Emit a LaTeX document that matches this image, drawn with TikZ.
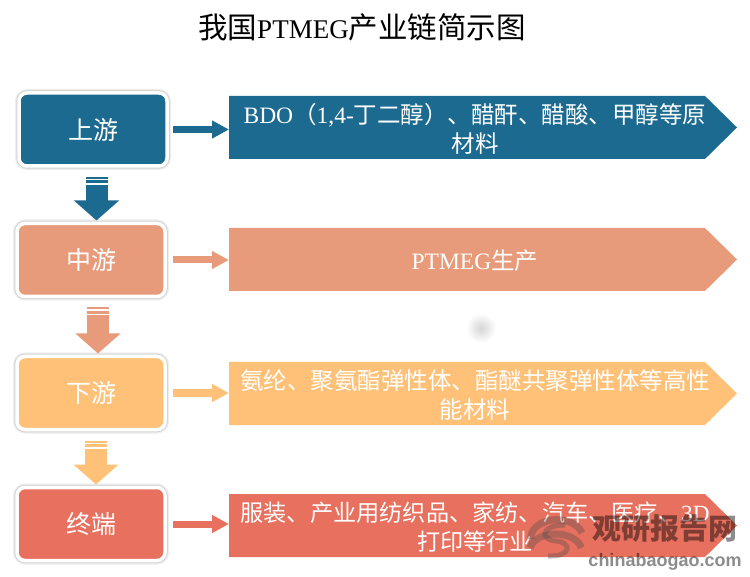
\documentclass[tikz,border=0pt]{standalone}
\usepackage{fontspec}
\setmainfont{Liberation Serif}
\setsansfont{Liberation Sans}
\newfontfamily\cjk{Noto Sans CJK SC}
\usetikzlibrary{positioning,arrows.meta,shapes.symbols,shadows}
\definecolor{cblue}{HTML}{1C6A8F}
\definecolor{csalmon}{HTML}{E79B7A}
\definecolor{corange}{HTML}{FFC177}
\definecolor{cred}{HTML}{E8705E}
\begin{document}
\begin{tikzpicture}[
	x=1pt,y=-1pt,
	stage/.style={
		draw=white,
		line width=3.5pt,
		rounded corners=8pt,
		minimum width=148pt,
		minimum height=73pt,
		outer sep=0pt,
		text=white,
		font=\cjk\fontsize{25}{25}\selectfont,
		drop shadow={opacity=.07,shadow xshift=0pt,shadow yshift=0pt,draw=black,line width=8pt},
		drop shadow={opacity=.1,shadow xshift=0pt,shadow yshift=0pt,draw=black,line width=5.5pt}
	},
	ribbon/.style={
		shape=signal,
		signal to=east,
		signal pointer angle=89,
		anchor=west,
		minimum width=508pt,
		minimum height=63pt,
		inner sep=0pt,
		outer sep=0pt
	},
	rlabel/.style={
		align=center,
		inner sep=0pt,
		text=white,
		font=\cjk\fontsize{23.5}{29}\selectfont
	},
	link/.style={
		line width=7pt,
		shorten <=8pt,
		-{Triangle[length=17pt,width=17pt]}
	},
	drop/.style={
		line width=22pt,
		shorten <=11pt,
		shorten >=3pt,
		dash pattern=on 2pt off 1.5pt on 3pt off 1.5pt on 60pt,
		-{Triangle[length=20pt,width=44pt]}
	},
	mark text/.style={
		text=black,
		opacity=.45,
		inner sep=0pt
	},
	mark line/.style={
		black!70,
		opacity=.35
	}
	]
	
	\useasboundingbox (0,0) rectangle (750,577);
	
	\node (title) at (362,27) {\fontsize{29.5}{30}\selectfont\cjk 我国{\rmfamily\fontsize{27}{30}\selectfont PTMEG}产业链简示图};
	
	\shade[inner color=black!16,outer color=white] (481,328) circle (15);
	
	\node[stage,fill=cblue] at (93,129.5) 
	(b1) {上游};
	\node[stage,fill=csalmon] at (91,260) 
	(b2) {中游};
	\node[stage,fill=corange] at (91,393) 
	(b3) {下游};
	\node[stage,fill=cred] at (91,524) 
	(b4) {终端};
	
	\node[ribbon,fill=cblue] at (229,127.5) 
	(r1) {};
	\node[ribbon,fill=csalmon] at (229,259.5) 
	(r2) {};
	\node[ribbon,fill=corange] at (229,393.5) 
	(r3) {};
	\node[ribbon,fill=cred] at (229,525.5) 
	(r4) {};
	
	\node[rlabel] at ([xshift=246pt,yshift=-1.5pt]r1.west) 
	(t1) {{\rmfamily BDO}（{\rmfamily 1,4-}丁二醇）、醋酐、醋酸、甲醇等原\\材料};
	\node[rlabel] at ([xshift=246pt,yshift=-1.5pt]r2.west) 
	(t2) {{\rmfamily PTMEG}生产};
	\node[rlabel] at ([xshift=246pt,yshift=-1.5pt]r3.west) 
	(t3) {氨纶、聚氨酯弹性体、酯醚共聚弹性体等高性\\能材料};
	\node[rlabel,font=\cjk\fontsize{23.2}{29}\selectfont] at ([xshift=246pt,yshift=-1.5pt]r4.west) 
	(t4) {服装、产业用纺织品、家纺、汽车、医疗、{\rmfamily 3D}\\打印等行业};
	
	\draw[link,shorten <=6pt,cblue] (b1.east) -- (b1.east -| r1.west);
	\draw[link,csalmon] (b2.east) -- (b2.east -| r2.west);
	\draw[link,corange] (b3.east) -- (b3.east -| r3.west);
	\draw[link,cred] (b4.east) -- (b4.east -| r4.west);
	
	\draw[drop,cblue] ([xshift=3.5pt]b1.south) -- ([xshift=3.5pt]b1.south |- b2.north);
	\draw[drop,csalmon] ([xshift=7pt]b2.south) -- ([xshift=7pt]b2.south |- b3.north);
	\draw[drop,corange] ([xshift=5pt]b3.south) -- ([xshift=5pt]b3.south |- b4.north);
	
	\draw[mark line,line width=7pt] (582,533) arc (-15:-185:26 and 18);
	\draw[mark line,line width=7pt] (530,548) arc (190:350:26 and 17);
	\draw[mark line,line width=5pt] (565,525) .. controls (540,525) and (540,540) .. (556,541) .. controls (572,542) and (572,557) .. (548,556);
	\node[mark text,font=\cjk\bfseries\fontsize{29}{29}\selectfont] at (665,529) 
	(logo) {观研报告网};
	\node[mark text,font=\sffamily\bfseries\fontsize{18}{18}\selectfont,below=10pt of logo] 
	(site) {chinabaogao.com};
	
\end{tikzpicture}
\end{document}
